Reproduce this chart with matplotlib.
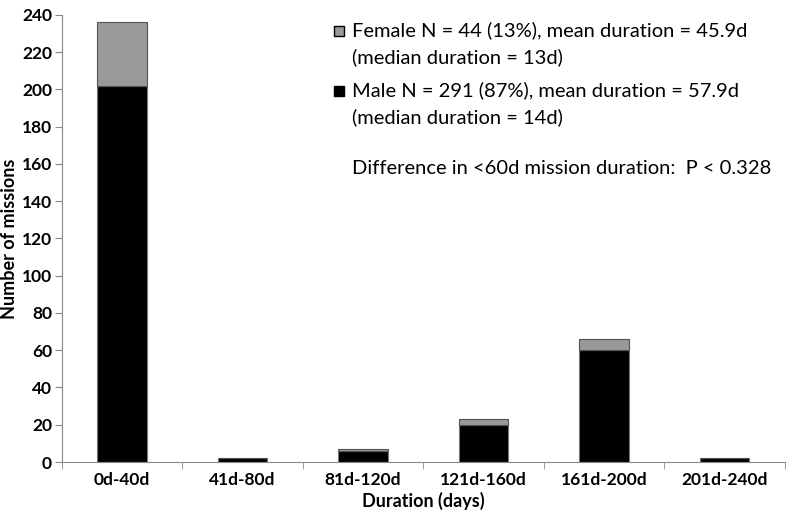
import matplotlib.pyplot as plt
import numpy as np

categories = ["0d-40d", "41d-80d", "81d-120d", "121d-160d", "161d-200d", "201d-240d"]
male = [202, 2, 6, 20, 60, 2]
female = [34, 0, 1, 3, 6, 0]

legend_lines = [
    "Female N = 44 (13%), mean duration = 45.9d",
    "(median duration = 13d)",
    "Male N = 291 (87%), mean duration = 57.9d",
    "(median duration = 14d)",
]
note = "Difference in <60d mission duration:  P < 0.328"

plt.rcParams['font.family'] = ['Lato', 'DejaVu Sans']

fig = plt.figure(figsize=(7.92, 5.2), dpi=100)
ax = fig.add_axes([0.078, 0.1115, 0.913, 0.86])

x = np.arange(len(categories))
ax.bar(x, male, width=0.41, color="black", edgecolor="#777777", linewidth=0.8)
ax.bar(x, female, width=0.41, bottom=male, color="#999999", edgecolor="#555555", linewidth=0.8)

ax.set_xlim(-0.5, len(categories) - 0.5)
ax.set_ylim(0, 240)
ax.set_yticks(range(0, 241, 20))

# category labels in the middle, tick marks on the boundaries
ax.set_xticks(x)
ax.set_xticklabels(categories, fontweight="bold", fontsize=12.5)
ax.set_xticks(np.arange(-0.5, len(categories), 1), minor=True)
ax.tick_params(axis="x", which="major", length=0, pad=7)
ax.tick_params(axis="x", which="minor", length=5, color="#888888", direction="out")
ax.tick_params(axis="y", length=5, color="#888888", labelsize=12.5, pad=2)
for lab in ax.get_yticklabels():
    lab.set_fontweight("bold")

for side in ["top", "right"]:
    ax.spines[side].set_visible(False)
for side in ["left", "bottom"]:
    ax.spines[side].set_color("#888888")

ax.set_xlabel("Duration (days)", fontweight="bold", fontsize=13, labelpad=3)
ax.set_ylabel("Number of missions", fontweight="bold", fontsize=13, labelpad=3)

# legend-like text block
fs = 14.5
fig.text(352 / 792, 1 - 30 / 520, legend_lines[0], fontsize=fs, va="center")
fig.text(352 / 792, 1 - 57 / 520, legend_lines[1], fontsize=fs, va="center")
fig.text(352 / 792, 1 - 90 / 520, legend_lines[2], fontsize=fs, va="center")
fig.text(352 / 792, 1 - 117 / 520, legend_lines[3], fontsize=fs, va="center")
fig.text(352 / 792, 1 - 168 / 520, note, fontsize=fs, va="center")

ax_marks = fig.add_axes([0, 0, 1, 1], facecolor="none")
ax_marks.set_xlim(0, 792)
ax_marks.set_ylim(520, 0)
ax_marks.axis("off")
ax_marks.scatter([339], [31], marker="s", s=60, color="#999999", edgecolors="black", linewidths=1)
ax_marks.scatter([339], [91], marker="s", s=60, color="black", edgecolors="black", linewidths=1)

fig.savefig("out.png", dpi=100)
